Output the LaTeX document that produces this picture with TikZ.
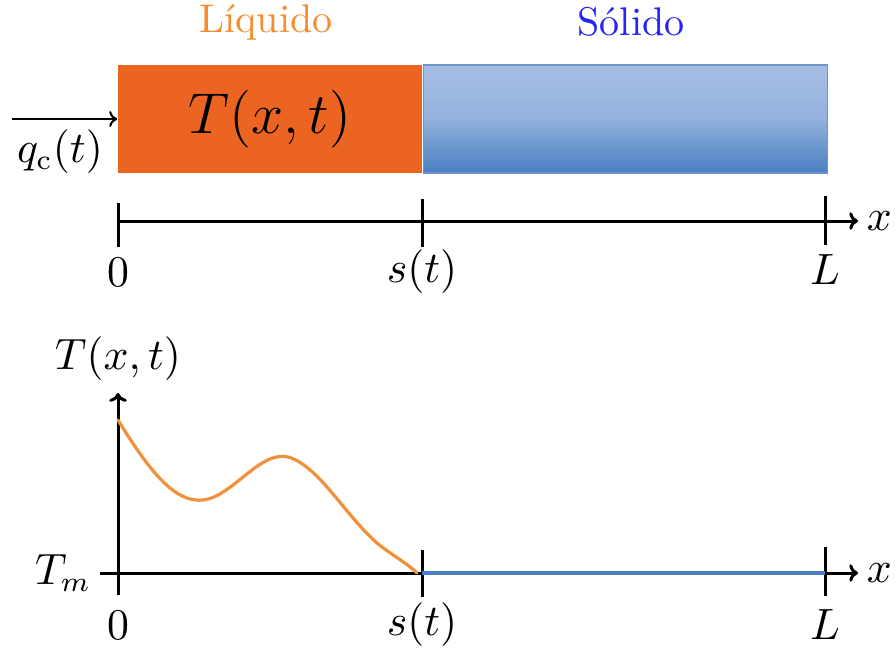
\documentclass[tikz,border=0pt]{standalone}
\usepackage{amsmath}
\usetikzlibrary{positioning,arrows.meta}

\definecolor{liqfill}{RGB}{236,100,34}
\definecolor{liqtext}{RGB}{247,140,45}
\definecolor{soltext}{RGB}{35,35,245}
\definecolor{soltop}{RGB}{166,190,228}
\definecolor{solbot}{RGB}{72,126,192}
\definecolor{soledge}{RGB}{112,148,202}
\definecolor{curveor}{RGB}{242,145,60}
\definecolor{lineblue}{RGB}{74,126,193}

\begin{document}
\begin{tikzpicture}[
    x=0.25pt, y=-0.25pt,
    lbl/.style={font=\fontsize{10.5}{12}\selectfont, inner sep=1pt},
    phase/.style={font=\fontsize{10}{12}\selectfont, inner sep=1pt},
    liquid/.style={fill=liqfill, minimum width=76pt, minimum height=27pt, inner sep=0pt,
        font=\fontsize{14.3}{17}\selectfont},
    solid/.style={draw=soledge, line width=0.3pt, top color=soltop, bottom color=solbot,
        middle color=soltop!80!solbot, minimum width=101pt, minimum height=27pt, inner sep=0pt},
    axis/.style={line width=0.75pt, -{To[length=2.2pt,width=4.4pt]}},
    tickline/.style={line width=0.75pt},
    >={To[length=2pt,width=4pt]}
]
\useasboundingbox (0,0) rectangle (896,655);

% bar
\node[liquid] (liq) at (270,119) {$T(x,t)$};
\node[solid, right=0pt of liq] (sol) {};
\node[phase, text=liqtext] (liqlbl) at (266,22) {Líquido};
\node[phase, text=soltext] (sollbl) at (631,22) {Sólido};

\coordinate (qin) at (12,119);
\draw[->, line width=0.5pt] (qin) -- (liq.west);
\node[lbl] (qc) at (60,152) {$q_{\mathrm{c}}(t)$};

% top axis
\coordinate (a0) at (118,221);
\coordinate (aend) at (858,221);
\draw[axis] (a0) -- (aend);
\draw[tickline] (118,203) -- (118,247);
\draw[tickline] (422,199) -- (422,247);
\draw[tickline] (825,196) -- (825,245);
\node[lbl] (zero1) at (118,272) {$0$};
\node[lbl] (s1) at (422,272) {$s(t)$};
\node[lbl] (L1) at (825,270) {$L$};
\node[lbl, right=1pt of aend] (x1) {$x$};

% bottom plot
\coordinate (ybot) at (118,595);
\coordinate (ytop) at (118,393);
\coordinate (xbeg) at (100,573);
\coordinate (xend) at (858,573);
\coordinate (bs) at (422,573);
\coordinate (bL) at (825,573);
\draw[axis] (ybot) -- (ytop);
\draw[axis] (xbeg) -- (xend);
\draw[tickline] (422,550) -- (422,597);
\draw[tickline] (825,547) -- (825,596);
\draw[line width=1.1pt, lineblue] (bs) -- (bL);
\draw[line width=0.8pt, curveor, line cap=round] (118,420)
    .. controls (150,472) and (175,503) .. (203,500)
    .. controls (232,497) and (260,450) .. (288,457)
    .. controls (318,465) and (345,515) .. (377,543)
    .. controls (393,556) and (407,563) .. (417,573);
\node[lbl, above=2pt of ytop] (Tlbl) {$T(x,t)$};
\node[lbl, left=1pt of xbeg] (Tm) {$T_m$};
\node[lbl] (zero2) at (118,625) {$0$};
\node[lbl] (s2) at (422,625) {$s(t)$};
\node[lbl] (L2) at (825,625) {$L$};
\node[lbl, right=1pt of xend] (x2) {$x$};
\end{tikzpicture}
\end{document}
